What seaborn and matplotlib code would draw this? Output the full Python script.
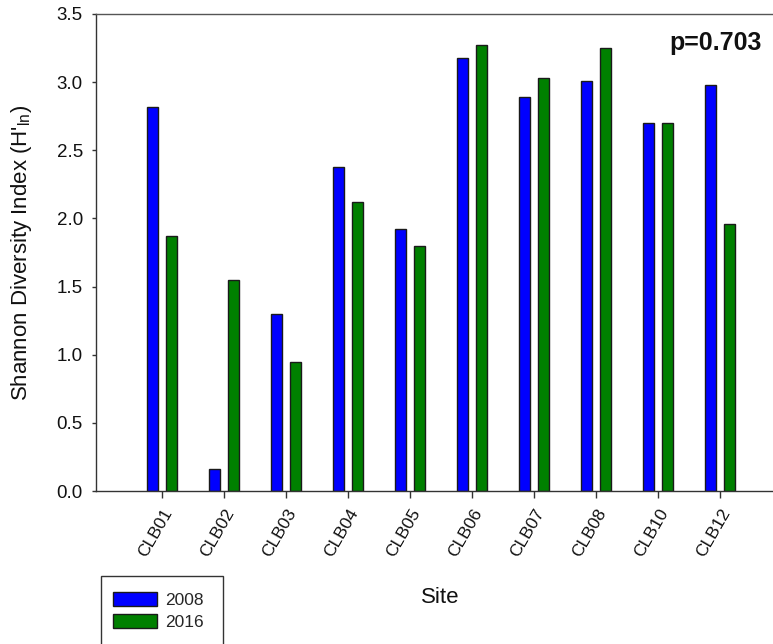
import numpy as np
import pandas as pd
import matplotlib
matplotlib.use("Agg")
import matplotlib.pyplot as plt
from matplotlib.patches import Rectangle
from matplotlib.ticker import FormatStrFormatter
import seaborn as sns

# Shannon diversity (H'ln) per site for the two survey years
sites = ["CLB01", "CLB02", "CLB03", "CLB04", "CLB05",
         "CLB06", "CLB07", "CLB08", "CLB10", "CLB12"]
h_2008 = [2.82, 0.16, 1.30, 2.38, 1.92, 3.18, 2.89, 3.01, 2.70, 2.98]
h_2016 = [1.87, 1.55, 0.95, 2.12, 1.80, 3.27, 3.03, 3.25, 2.70, 1.96]
years = ["2008", "2016"]
colors = ["#0000FF", "#008000"]
y_ticks = [0.0, 0.5, 1.0, 1.5, 2.0, 2.5, 3.0, 3.5]
p_label = "p=0.703"

df = pd.DataFrame({
    "Site": sites * 2,
    "H": h_2008 + h_2016,
    "Year": [years[0]] * len(sites) + [years[1]] * len(sites),
})

sns.set_theme(style="ticks")
plt.rcParams["font.family"] = ["Liberation Sans", "DejaVu Sans"]
plt.rcParams["mathtext.fontset"] = "custom"
plt.rcParams["mathtext.rm"] = "Liberation Sans"
plt.rcParams["mathtext.default"] = "regular"

W, H = 773, 644
fig = plt.figure(figsize=(W / 100, H / 100), dpi=100)
ax = fig.add_axes([96 / W, 1 - 491 / H, (W - 96) / W, (491 - 14) / H])

sns.barplot(data=df, x="Site", y="H", hue="Year", order=sites, hue_order=years,
            palette=colors, saturation=1, width=0.606, gap=0.4,
            edgecolor="#1a1a1a", linewidth=1, errorbar=None, ax=ax)

ax.set_xlim(-1.065, 9.855)
ax.set_ylim(0, 3.5)
ax.set_yticks(y_ticks)
ax.yaxis.set_major_formatter(FormatStrFormatter("%.1f"))

for side in ["left", "bottom", "top"]:
    ax.spines[side].set_visible(True)
    ax.spines[side].set_linewidth(1.0)
    ax.spines[side].set_color("#333333")
ax.spines["top"].set_color("#555555")
ax.spines["right"].set_visible(False)

ax.tick_params(axis="y", direction="out", length=3, width=1, color="#333333",
               labelsize=13.5, labelcolor="#111111", pad=6.5)
ax.tick_params(axis="x", direction="out", length=5, width=1, color="#333333",
               labelsize=12.5, labelcolor="#111111", pad=6)
plt.setp(ax.get_xticklabels(), rotation=60, ha="right", rotation_mode="anchor")

ax.set_xlabel("Site", fontsize=16, color="#111111")
ax.set_ylabel(r"Shannon Diversity Index (H'$_{ln}$)", fontsize=16, color="#111111")
ax.xaxis.set_label_coords(0.509, -0.201)
ax.yaxis.set_label_coords(-0.092, 0.5)

# Legend in an open-bottomed box below the axis
handles, labels = ax.get_legend_handles_labels()
ax.get_legend().remove()
fig.add_artist(Rectangle((101 / W, -0.05), (223 - 101) / W, 0.05 + 1 - 576 / H,
                         transform=fig.transFigure, facecolor="white",
                         edgecolor="#333333", linewidth=1, clip_on=False))
fig.legend(handles, labels, loc="upper left",
           bbox_to_anchor=(113 / W, 1 - 592 / H), bbox_transform=fig.transFigure,
           frameon=False, fontsize=12.5, borderpad=0, borderaxespad=0,
           handlelength=2.53, handleheight=0.86, handletextpad=0.5,
           labelspacing=0.33)

fig.text(762 / W, 1 - 50 / H, p_label, ha="right", va="baseline",
         fontsize=18, fontweight="bold", color="#111111")

fig.savefig("out.png", dpi=100)
